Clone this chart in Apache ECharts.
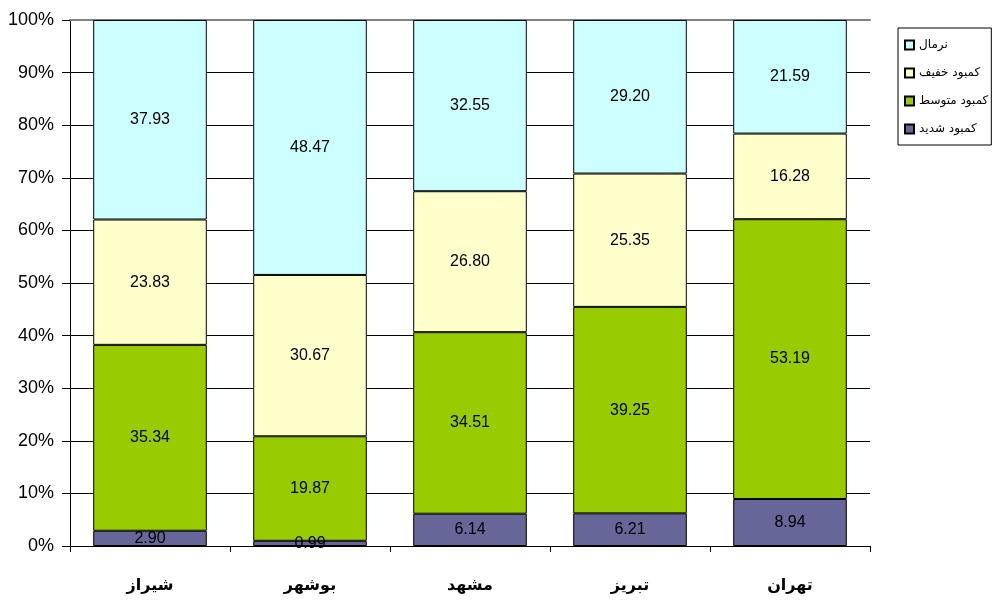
<!DOCTYPE html>
<html>
<head>
<meta charset="utf-8">
<script src="https://cdn.jsdelivr.net/npm/echarts@6/dist/echarts.min.js"></script>
<style>
  html, body { margin: 0; padding: 0; background: #fff; }
  #chart { width: 998px; height: 602px; }
</style>
</head>
<body>
<div id="chart"></div>
<script>
// Cities along the x axis
const cities = ['شیراز', 'بوشهر', 'مشهد', 'تبریز', 'تهران'];

// Share of each deficiency level per city (percent)
const severe   = [2.90, 0.99, 6.14, 6.21, 8.94];     // کمبود شدید
const moderate = [35.34, 19.87, 34.51, 39.25, 53.19]; // کمبود متوسط
const mild     = [23.83, 30.67, 26.80, 25.35, 16.28]; // کمبود خفیف
const normal   = [37.93, 48.47, 32.55, 29.20, 21.59]; // نرمال

const seriesNames = ['کمبود شدید', 'کمبود متوسط', 'کمبود خفیف', 'نرمال'];
const seriesData  = [severe, moderate, mild, normal];
const seriesColors = ['#666699', '#99CC00', '#FFFFCC', '#CCFFFF'];

const chart = echarts.init(document.getElementById('chart'));

const series = seriesNames.map((name, i) => ({
  name: name,
  type: 'bar',
  stack: 'total',
  barWidth: '71%',
  xAxisIndex: 0,
  data: seriesData[i],
  itemStyle: { color: seriesColors[i], borderColor: '#000', borderWidth: 1 },
  label: {
    show: true,
    position: 'inside',
    color: '#000',
    fontFamily: 'Liberation Sans, Arial, sans-serif',
    fontSize: 16,
    formatter: p => p.value.toFixed(2)
  }
}));

chart.setOption({
  animation: false,
  backgroundColor: '#fff',
  grid: { left: 70, right: 128, top: 20, bottom: 56, containLabel: false },
  legend: {
    orient: 'vertical',
    left: 898,
    top: 28,
    data: ['نرمال', 'کمبود خفیف', 'کمبود متوسط', 'کمبود شدید'],
    icon: 'rect',
    itemWidth: 9,
    itemHeight: 9,
    itemGap: 14,
    padding: [10, 3, 9, 6],
    borderColor: '#000',
    borderWidth: 1,
    textStyle: {
      fontFamily: 'DejaVu Sans, sans-serif',
      fontSize: 12,
      lineHeight: 14,
      color: '#000'
    }
  },
  xAxis: [
    {
      type: 'category',
      data: cities,
      position: 'bottom',
      axisLine: { lineStyle: { color: '#000', width: 1 } },
      axisTick: { show: true, length: 6, lineStyle: { color: '#000' } },
      axisLabel: {
        color: '#000',
        fontFamily: 'DejaVu Sans, sans-serif',
        fontWeight: 'bold',
        fontSize: 16,
        margin: 32
      }
    },
    {
      type: 'category',
      data: cities,
      position: 'top',
      axisLine: { lineStyle: { color: '#808080', width: 2 } },
      axisTick: { show: false },
      axisLabel: { show: false }
    }
  ],
  yAxis: {
    type: 'value',
    min: 0,
    max: 100,
    interval: 10,
    axisLine: { show: true, lineStyle: { color: '#000', width: 1 } },
    axisTick: { show: true, length: 8, lineStyle: { color: '#000' } },
    splitLine: { show: true, lineStyle: { color: '#000', width: 1 } },
    axisLabel: {
      color: '#000',
      fontFamily: 'Liberation Sans, Arial, sans-serif',
      fontSize: 18,
      margin: 16,
      formatter: '{value}%'
    }
  },
  series: series
});
</script>
</body>
</html>
